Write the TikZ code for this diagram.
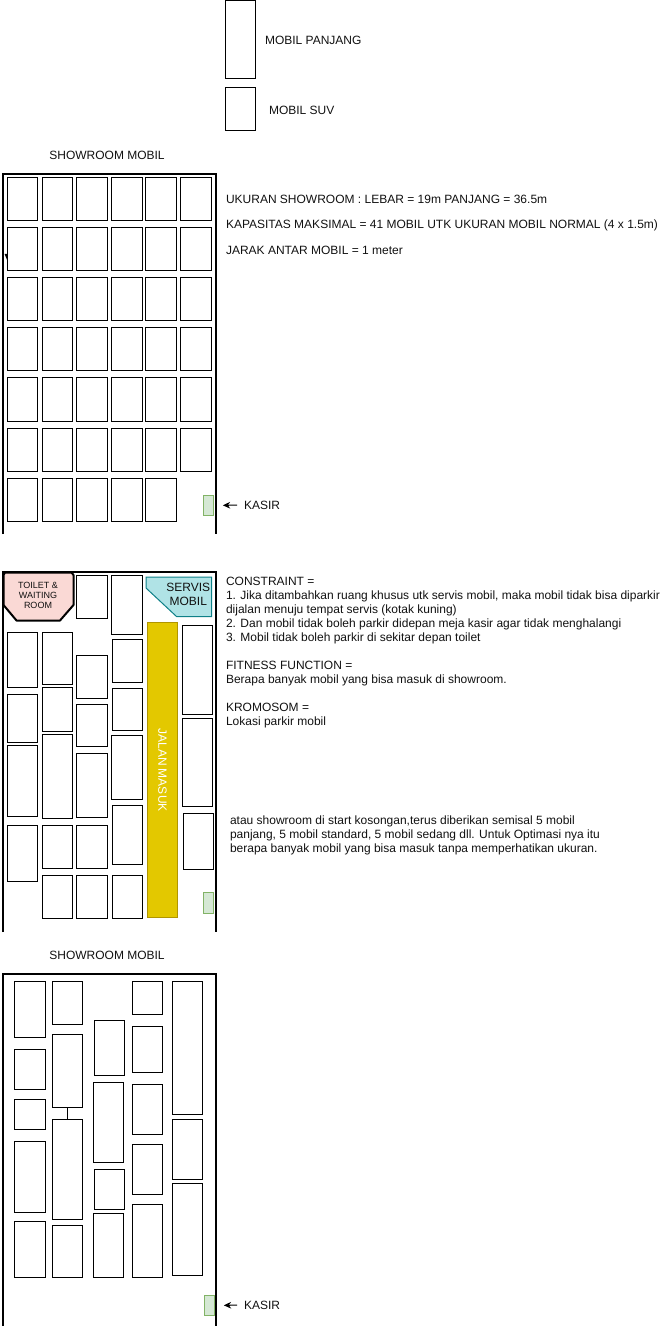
\documentclass[tikz,border=0pt]{standalone}
\usepackage{fontspec}
\setmainfont{Liberation Sans}
\usetikzlibrary{arrows.meta}
\definecolor{kasirfill}{HTML}{D5E8D4}
\definecolor{kasirline}{HTML}{82B366}
\definecolor{toiletfill}{HTML}{FAD9D5}
\definecolor{servisfill}{HTML}{B0E3E6}
\definecolor{servisline}{HTML}{0E8088}
\definecolor{jalanfill}{HTML}{E3C800}
\definecolor{jalanline}{HTML}{B09500}
\definecolor{inktext}{HTML}{111111}
\tikzset{
  x=0.75pt,y=-0.75pt,
  carbox/.style={draw=black,fill=white,line width=0.75pt,inner sep=0pt,outer sep=0pt},
  kasirbox/.style={draw=kasirline,fill=kasirfill,line width=0.75pt,inner sep=0pt,outer sep=0pt},
  jalanbox/.style={draw=jalanline,fill=jalanfill,line width=0.75pt,inner sep=0pt,outer sep=0pt},
  wall/.style={draw=black,line width=1.5pt,line join=miter},
  label/.style={font=\fontsize{9pt}{10.5pt}\selectfont,text=inktext,inner sep=0pt,outer sep=0pt},
  para/.style={label,align=left,anchor=north west},
  kasirarrow/.style={draw=black,line width=0.75pt,-{Stealth[length=5.5pt,width=5pt]},shorten >=7pt,shorten <=5.2pt},
}
\newcommand{\car}[5]{\node[carbox,minimum width={(#4-#2)*0.75pt},minimum height={(#5-#3)*0.75pt}] (#1) at ({(#2+#4)/2},{(#3+#5)/2}) {};}
\newcommand{\kasir}[5]{\node[kasirbox,minimum width={(#4-#2)*0.75pt},minimum height={(#5-#3)*0.75pt}] (#1) at ({(#2+#4)/2},{(#3+#5)/2}) {};}
\begin{document}
\begin{tikzpicture}
\useasboundingbox (0,0) rectangle (671,1326);
% legend
\car{legendlong}{225.5}{0.5}{255.5}{79}
\car{legendsuv}{225.5}{88}{255.5}{131}
\node[label,anchor=west] (legendlongtext) at (265,40) {MOBIL PANJANG};
\node[label,anchor=west] (legendsuvtext) at (269,110) {MOBIL SUV};
% room 1
\node[label] (title1) at (107,155) {SHOWROOM MOBIL};
\draw[wall] (2.5,534) -- (2.5,174) -- (216,174) -- (216,534);
\fill[black] (4.6,254) -- (7.5,254) -- (7.5,261) -- cycle;
\foreach \r/\ya/\yb in {1/178/221,2/228/271,3/278/321,4/328/371,5/378/421,6/428/471,7/478/521}{
  \foreach \c/\xa/\xb in {1/7.5/37.5,2/42.5/72.5,3/76.5/107.5,4/111.5/142,5/145.5/176,6/180.5/211}{
    \ifnum\r\c=76\else\car{a\r\c}{\xa}{\ya}{\xb}{\yb}\fi
  }
}
\kasir{kasir1}{203.5}{495.5}{213.5}{515.5}
\node[label,anchor=west] (kasirtext1) at (244,505) {KASIR};
\draw[kasirarrow] (kasirtext1.west) -- (kasir1.east);
\node[label,anchor=west] (ukuran) at (226,199) {UKURAN SHOWROOM : LEBAR = 19m PANJANG = 36.5m};
\node[label,anchor=west] (kapasitas) at (226,225) {KAPASITAS MAKSIMAL = 41 MOBIL UTK UKURAN MOBIL NORMAL (4 x 1.5m)};
\node[label,anchor=west] (jarak) at (226,250) {JARAK ANTAR MOBIL = 1 meter};
% room 2
\draw[wall] (2.5,932) -- (2.5,572) -- (216,572) -- (216,932);
\draw[black,fill=toiletfill,line width=1.5pt,line join=round] (5,572.5) -- (71.5,572.5) -- (73.5,575) -- (73.5,605) -- (60,620.5) -- (16.5,620.5) -- (3.5,605) -- (3.5,575) -- cycle;
\node[label,font=\fontsize{6.75pt}{7.5pt}\selectfont,align=center] (toilet) at (38,595) {TOILET \&\\WAITING\\ROOM};
\draw[servisline,fill=servisfill,line width=0.75pt] (146,577) -- (211.5,577) -- (211.5,616.5) -- (176.5,616.5) -- (146,588) -- cycle;
\node[label,align=center] (servis) at (188.3,594.7) {SERVIS\\MOBIL};
\node[jalanbox,minimum width=30pt*0.75,minimum height=295.5pt*0.75] (jalan) at (162.5,770) {};
\node[label,text=white,rotate=-90] (jalantext) at (162.5,770) {JALAN MASUK};
\car{b1}{7.5}{632.5}{37.5}{687.5}
\car{b2}{7.5}{694.5}{37.5}{742.5}
\car{b3}{7.5}{745.5}{37.5}{816}
\car{b4}{7.5}{825.5}{37.5}{881}
\car{b5}{42.5}{632}{72.5}{684.5}
\car{b6}{42.5}{687.5}{72.5}{731.5}
\car{b7}{42.5}{734}{72.5}{818.5}
\car{b8}{42.5}{825.5}{72.5}{868.5}
\car{b9}{42.5}{875.5}{72.5}{918.5}
\car{b10}{76.5}{575.5}{107.5}{618.5}
\car{b11}{76.5}{655.5}{107.5}{698.5}
\car{b12}{76.5}{704}{107.5}{746.5}
\car{b13}{76.5}{753.5}{107.5}{817.5}
\car{b14}{76.5}{825.5}{107.5}{868.5}
\car{b15}{76.5}{875.5}{107.5}{918.5}
\car{b16}{111.5}{575.5}{142.5}{634.5}
\car{b17}{112.5}{639.5}{142.5}{682.5}
\car{b18}{112.5}{688.5}{142.5}{730.5}
\car{b19}{111.5}{735}{142.5}{799}
\car{b20}{112.5}{805.5}{142.5}{864}
\car{b21}{112.5}{875.5}{142.5}{918.5}
\car{b22}{182.5}{625.5}{212.5}{714}
\car{b23}{182.5}{718.5}{212.5}{806.5}
\car{b24}{183}{813.5}{213.5}{869}
\kasir{kasir2}{203.5}{892.5}{213.5}{913.5}
\node[para] (constraint) at (226,577.5) {CONSTRAINT =\\1. Jika ditambahkan ruang khusus utk servis mobil, maka mobil tidak bisa diparkir\\dijalan menuju tempat servis (kotak kuning)\\2. Dan mobil tidak boleh parkir didepan meja kasir agar tidak menghalangi\\3. Mobil tidak boleh parkir di sekitar depan toilet\\[10.5pt]FITNESS FUNCTION =\\Berapa banyak mobil yang bisa masuk di showroom.\\[10.5pt]KROMOSOM =\\Lokasi parkir mobil};
\node[para] (atau) at (230,816) {atau showroom di start kosongan,terus diberikan semisal 5 mobil\\panjang, 5 mobil standard, 5 mobil sedang dll. Untuk Optimasi nya itu\\berapa banyak mobil yang bisa masuk tanpa memperhatikan ukuran.};
% room 3
\node[label] (title3) at (107,955) {SHOWROOM MOBIL};
\draw[wall] (2.5,1326) -- (2.5,974) -- (216,974) -- (216,1326);
\car{c1}{14.5}{981.5}{45.5}{1037}
\car{c2}{14.5}{1049.5}{45.5}{1089.5}
\car{c3}{14.5}{1099.5}{45.5}{1129.5}
\car{c4}{14.5}{1141.5}{45.5}{1212}
\car{c5}{14.5}{1221.5}{45.5}{1277}
\car{c6}{52.5}{981.5}{82.5}{1024.5}
\car{c7}{52.5}{1034.5}{82.5}{1107}
\car{c8}{52.5}{1119.5}{82.5}{1219.5}
\car{c9}{52.5}{1225.5}{82.5}{1277}
\draw[black,line width=0.75pt] (c7.south) -- (c8.north);
\car{c10}{94}{1020.5}{124.5}{1075.5}
\car{c11}{93.5}{1082.5}{123.5}{1162.5}
\car{c12}{94}{1169.5}{124.5}{1209.5}
\car{c13}{93.5}{1213.5}{123.5}{1277.5}
\car{c14}{132.5}{981.5}{162.5}{1014.5}
\car{c15}{132.5}{1026.5}{162.5}{1072}
\car{c16}{132.5}{1084.5}{162.5}{1134.5}
\car{c17}{132.5}{1144.5}{162.5}{1194.5}
\car{c18}{132.5}{1204.5}{162.5}{1277}
\car{c19}{172.5}{981.5}{202.5}{1114.5}
\car{c20}{172.5}{1119.5}{202.5}{1179.5}
\car{c21}{172.5}{1183.5}{202.5}{1275.5}
\kasir{kasir3}{204.5}{1295.5}{214.5}{1315.5}
\node[label,anchor=west] (kasirtext3) at (244,1305) {KASIR};
\draw[kasirarrow] (kasirtext3.west) -- (kasir3.east);
\end{tikzpicture}
\end{document}
